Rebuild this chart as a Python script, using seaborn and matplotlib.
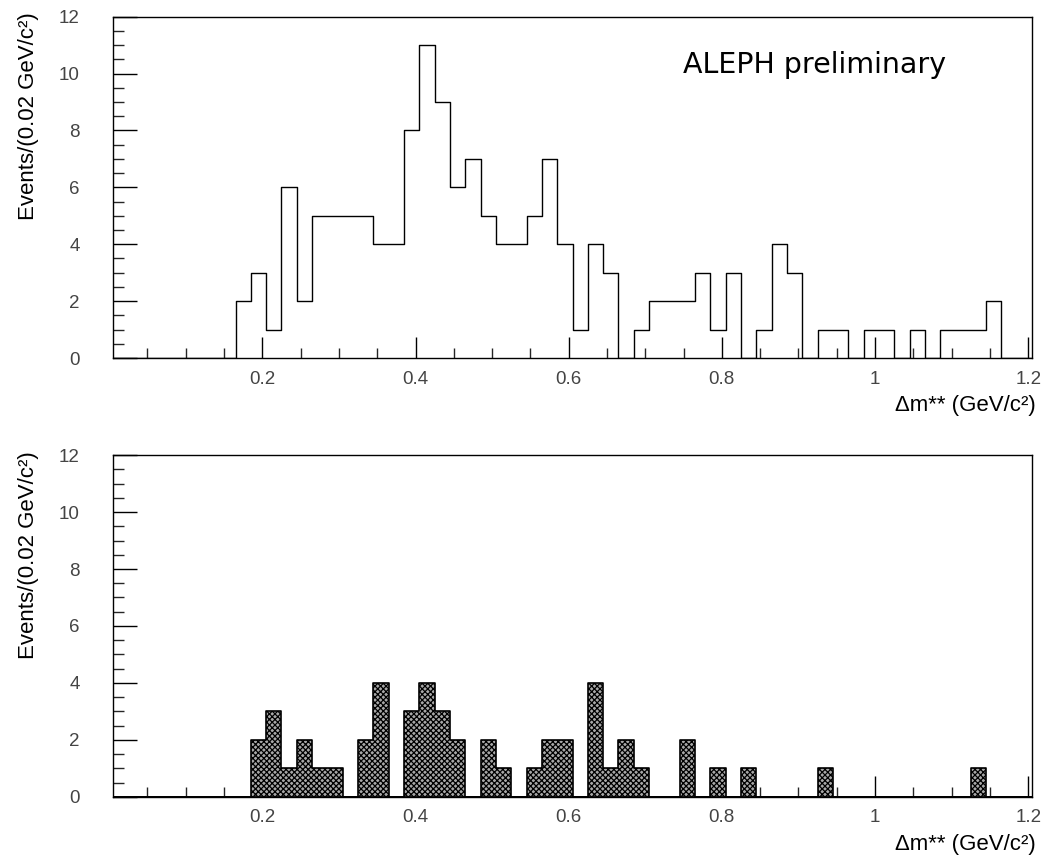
import numpy as np
import pandas as pd
import matplotlib
matplotlib.use("Agg")
import matplotlib.pyplot as plt
from matplotlib.ticker import MultipleLocator
import seaborn as sns

# ---- data ----
bin_start = 0.005
bin_width = 0.02
n_bins = 60
counts_all = [0, 0, 0, 0, 0, 0, 0, 0,
              2, 3, 1, 6, 2, 5, 5, 5, 5, 4, 4, 8, 11, 9, 6, 7, 5, 4, 4, 5, 7, 4,
              1, 4, 3, 0, 1, 2, 2, 2, 3, 1, 3, 0, 1, 4, 3, 0, 1, 1, 0, 1,
              1, 0, 1, 0, 1, 1, 1, 2, 0, 0]
counts_sel = [0, 0, 0, 0, 0, 0, 0, 0, 0,
              2, 3, 1, 2, 1, 1, 0, 2, 4, 0, 3, 4, 3, 2, 0, 2, 1, 0, 1, 2,
              2, 0, 4, 1, 2, 1, 0, 0, 2, 0, 1, 0, 1, 0, 0, 0, 0, 1,
              0, 0, 0, 0, 0, 0, 0, 0, 0, 1, 0, 0, 0]
x_ticks = [0.2, 0.4, 0.6, 0.8, 1.0, 1.2]
x_tick_labels = ["0.2", "0.4", "0.6", "0.8", "1", "1.2"]
y_ticks = [0, 2, 4, 6, 8, 10, 12]
y_label = "Events/(0.02 GeV/c²)"
x_label = "Δm** (GeV/c²)"
annotation = "ALEPH preliminary"

edges = [bin_start + bin_width * i for i in range(n_bins + 1)]
centers = [0.5 * (edges[i] + edges[i + 1]) for i in range(n_bins)]
df_all = pd.DataFrame({"dm": centers, "n": counts_all})
df_sel = pd.DataFrame({"dm": centers, "n": counts_sel})

sns.set_style("white")
plt.rcParams["font.family"] = ["Liberation Sans", "DejaVu Sans"]
plt.rcParams["hatch.color"] = "black"
plt.rcParams["hatch.linewidth"] = 0.9

fig = plt.figure(figsize=(10.5, 8.6), dpi=100)
ax1 = fig.add_axes([0.1076, 0.5837, 0.9829 - 0.1076, 0.9806 - 0.5837])
ax2 = fig.add_axes([0.1076, 0.0733, 0.9829 - 0.1076, 0.4709 - 0.0733])

sns.histplot(data=df_all, x="dm", weights="n", bins=edges, element="step",
             fill=False, color="black", linewidth=1.0, ax=ax1)
sns.histplot(data=df_sel, x="dm", weights="n", bins=edges, element="step",
             fill=True, color="black", linewidth=1.0, ax=ax2)
for coll in ax2.collections:
    coll.set_facecolor("#a8a8a8")
    coll.set_edgecolor("black")
    coll.set_hatch("xxxxxx")
    coll.set_linewidth(1.2)

for ax in (ax1, ax2):
    ax.set_xlim(bin_start, bin_start + bin_width * n_bins)
    ax.set_ylim(0, 12)
    ax.set_xticks(x_ticks)
    ax.set_xticklabels(x_tick_labels)
    ax.set_yticks(y_ticks)
    ax.xaxis.set_minor_locator(MultipleLocator(0.05))
    ax.yaxis.set_minor_locator(MultipleLocator(0.5))
    ax.tick_params(axis="x", which="major", direction="in", length=15, width=1,
                   labelsize=13.5, pad=9, colors="black", labelcolor="#444444",
                   top=False, bottom=True)
    ax.tick_params(axis="x", which="minor", direction="in", length=7, width=1,
                   top=False, bottom=True)
    ax.tick_params(axis="y", which="major", direction="in", length=17, width=1,
                   labelsize=13.5, pad=24, colors="black", labelcolor="#444444",
                   left=True, right=False)
    ax.tick_params(axis="y", which="minor", direction="in", length=8, width=1,
                   left=True, right=False)
    for s in ax.spines.values():
        s.set_visible(True)
        s.set_color("black")
        s.set_linewidth(1.0)
    ax.set_xlabel("")
    ax.set_ylabel("")
    ax.text(-0.092, 1.012, y_label, transform=ax.transAxes, rotation=90,
            ha="center", va="top", fontsize=16, color="black")
    ax.text(1.004, -0.138, x_label, transform=ax.transAxes,
            ha="right", va="center", fontsize=16, color="black")

ax1.text(0.620, 0.835, annotation, transform=ax1.transAxes, ha="left",
         va="baseline", fontsize=20.5, family=["DejaVu Sans"], color="black")

fig.savefig("out.png", dpi=100)
